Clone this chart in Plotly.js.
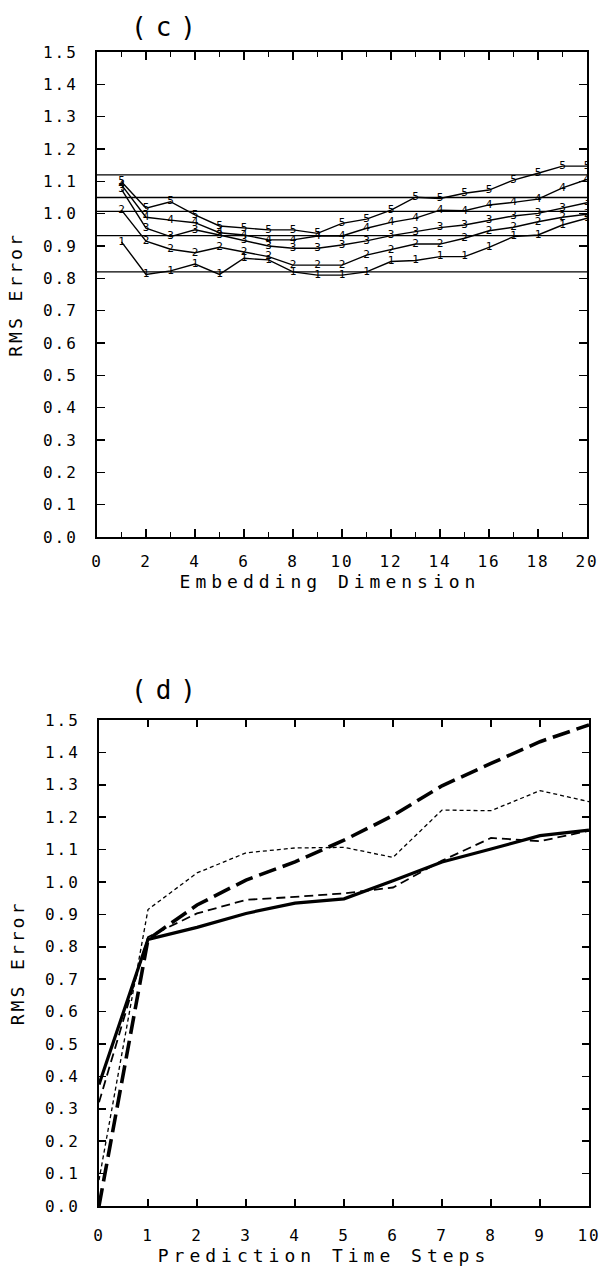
<!DOCTYPE html>
<html>
<head>
<meta charset="utf-8">
<script src="https://cdn.plot.ly/plotly-3.0.1.min.js"></script>
<style>
  html, body { margin: 0; padding: 0; background: #fff; }
  #chart { width: 600px; height: 1269px; }
  .xtick text, .ytick text, .x2tick text, .y2tick text { letter-spacing: 2px; }
  .xtitle, .x2title { letter-spacing: 5px; }
  .xtitle { transform: translateX(-12px); }
  .x2title { transform: translateX(-20px); }
  .ytitle, .y2title { letter-spacing: 3px; }
  .annotation-text { letter-spacing: 9px; }
</style>
</head>
<body>
<div id="chart"></div>
<script>
// ---------- Panel (c): RMS error vs embedding dimension ----------
const embeddingDim = [1,2,3,4,5,6,7,8,9,10,11,12,13,14,15,16,17,18,19,20];
const seriesLabels = ['1','2','3','4','5'];
const rms1 = [0.913,0.812,0.823,0.844,0.812,0.862,0.857,0.820,0.810,0.810,0.820,0.852,0.855,0.867,0.867,0.896,0.929,0.934,0.965,0.986];
const rms2 = [1.011,0.915,0.890,0.879,0.896,0.882,0.867,0.841,0.841,0.841,0.872,0.888,0.906,0.906,0.924,0.947,0.958,0.975,0.989,0.998];
const rms3 = [1.075,0.955,0.929,0.950,0.934,0.917,0.900,0.893,0.893,0.903,0.916,0.932,0.944,0.957,0.965,0.980,0.993,1.001,1.017,1.034];
const rms4 = [1.089,0.989,0.980,0.972,0.941,0.934,0.919,0.919,0.931,0.931,0.955,0.973,0.986,1.011,1.009,1.027,1.035,1.045,1.080,1.106];
const rms5 = [1.099,1.017,1.037,0.996,0.962,0.955,0.950,0.950,0.939,0.970,0.983,1.011,1.051,1.047,1.063,1.073,1.104,1.125,1.147,1.147];
const refLevels = [1.12, 1.05, 1.007, 0.932, 0.82];

// ---------- Panel (d): RMS error vs prediction time steps ----------
const timeSteps = [0,1,2,3,4,5,6,7,8,9,10];
const rmsSolid     = [0.375,0.823,0.860,0.903,0.935,0.948,1.004,1.062,1.102,1.143,1.160];
const rmsLongDash  = [0.000,0.823,0.929,1.006,1.062,1.129,1.205,1.297,1.366,1.433,1.485];
const rmsShortDash = [0.080,0.915,1.028,1.090,1.105,1.107,1.076,1.222,1.220,1.282,1.248];
const rmsMedDash   = [0.320,0.830,0.903,0.945,0.954,0.965,0.983,1.066,1.136,1.126,1.158];

// ---------- Tick labels ----------
const yTickVals = [0,0.1,0.2,0.3,0.4,0.5,0.6,0.7,0.8,0.9,1.0,1.1,1.2,1.3,1.4,1.5];
const yTickText = ['0.0','0.1','0.2','0.3','0.4','0.5','0.6','0.7','0.8','0.9','1.0','1.1','1.2','1.3','1.4','1.5'];
const xTickValsC = [0,2,4,6,8,10,12,14,16,18,20];
const xTickTextC = ['0','2','4','6','8','10','12','14','16','18','20'];
const xTickValsD = [0,1,2,3,4,5,6,7,8,9,10];
const xTickTextD = ['0','1','2','3','4','5','6','7','8','9','10'];

const FONT = 'DejaVu Sans Mono, monospace';
const W = 600, H = 1269;

const cSeries = [rms1, rms2, rms3, rms4, rms5];
const traces = cSeries.map((ys, i) => ({
  x: embeddingDim, y: ys, xaxis: 'x', yaxis: 'y',
  mode: 'lines+text',
  text: embeddingDim.map(() => seriesLabels[i]),
  textposition: 'middle center',
  textfont: {family: FONT, size: 11, color: '#000'},
  line: {color: '#000', width: 1.4},
  hoverinfo: 'skip', showlegend: false
}));

const dDefs = [
  {y: rmsSolid,     w: 3.2, dash: 'solid'},
  {y: rmsLongDash,  w: 3.6, dash: '18px,7px'},
  {y: rmsShortDash, w: 1.3, dash: '4px,3px'},
  {y: rmsMedDash,   w: 1.8, dash: '9px,5px'}
];
dDefs.forEach(d => traces.push({
  x: timeSteps, y: d.y, xaxis: 'x2', yaxis: 'y2', mode: 'lines',
  line: {color: '#000', width: d.w, dash: d.dash},
  hoverinfo: 'skip', showlegend: false
}));

const shapes = refLevels.map(v => ({
  type: 'line', xref: 'x domain', yref: 'y', x0: 0, x1: 1, y0: v, y1: v,
  line: {color: '#000', width: 1.4}
}));

const axisCommon = {
  showgrid: false, zeroline: false, showline: true, linecolor: '#000', linewidth: 2,
  mirror: 'ticks', ticks: 'inside', tickcolor: '#000', tickwidth: 1.5,
  ticklabeloverflow: 'allow',
  tickfont: {family: FONT, size: 16, color: '#000'}
};

const layout = {
  width: W, height: H,
  margin: {l: 0, r: 0, t: 0, b: 0},
  paper_bgcolor: '#fff', plot_bgcolor: '#fff',
  showlegend: false,
  xaxis: Object.assign({}, axisCommon, {
    domain: [97/W, 587/W], range: [0, 20], anchor: 'y',
    tickmode: 'array', tickvals: xTickValsC, ticktext: xTickTextC, ticklen: 8,
    ticklabelstandoff: 9,
    minor: {dtick: 1, ticks: 'inside', ticklen: 5, tickcolor: '#000', tickwidth: 1.5},
    title: {text: 'Embedding Dimension', font: {family: FONT, size: 18, color: '#000'}, standoff: 4}
  }),
  yaxis: Object.assign({}, axisCommon, {
    domain: [1 - 537/H, 1 - 52/H], range: [0, 1.5], anchor: 'x',
    tickmode: 'array', tickvals: yTickVals, ticktext: yTickText, ticklen: 8,
    ticklabelstandoff: 14,
    title: {text: 'RMS Error', font: {family: FONT, size: 18, color: '#000'}, standoff: 16}
  }),
  xaxis2: Object.assign({}, axisCommon, {
    domain: [99/W, 589/W], range: [0, 10], anchor: 'y2',
    tickmode: 'array', tickvals: xTickValsD, ticktext: xTickTextD, ticklen: 7,
    ticklabelstandoff: 14,
    title: {text: 'Prediction Time Steps', font: {family: FONT, size: 18, color: '#000'}, standoff: 1}
  }),
  yaxis2: Object.assign({}, axisCommon, {
    domain: [1 - 1206/H, 1 - 720/H], range: [0, 1.5], anchor: 'x2',
    tickmode: 'array', tickvals: yTickVals, ticktext: yTickText, ticklen: 7,
    ticklabelstandoff: 14,
    title: {text: 'RMS Error', font: {family: FONT, size: 18, color: '#000'}, standoff: 16}
  }),
  shapes: shapes,
  annotations: [
    {text: '(c)', xref: 'paper', yref: 'paper', x: 168/W, y: 1 - 27/H, showarrow: false,
     xanchor: 'center', yanchor: 'middle', font: {family: FONT, size: 26, color: '#000'}},
    {text: '(d)', xref: 'paper', yref: 'paper', x: 168/W, y: 1 - 690/H, showarrow: false,
     xanchor: 'center', yanchor: 'middle', font: {family: FONT, size: 26, color: '#000'}}
  ]
};

Plotly.newPlot('chart', traces, layout, {staticPlot: true, displayModeBar: false});
</script>
</body>
</html>
